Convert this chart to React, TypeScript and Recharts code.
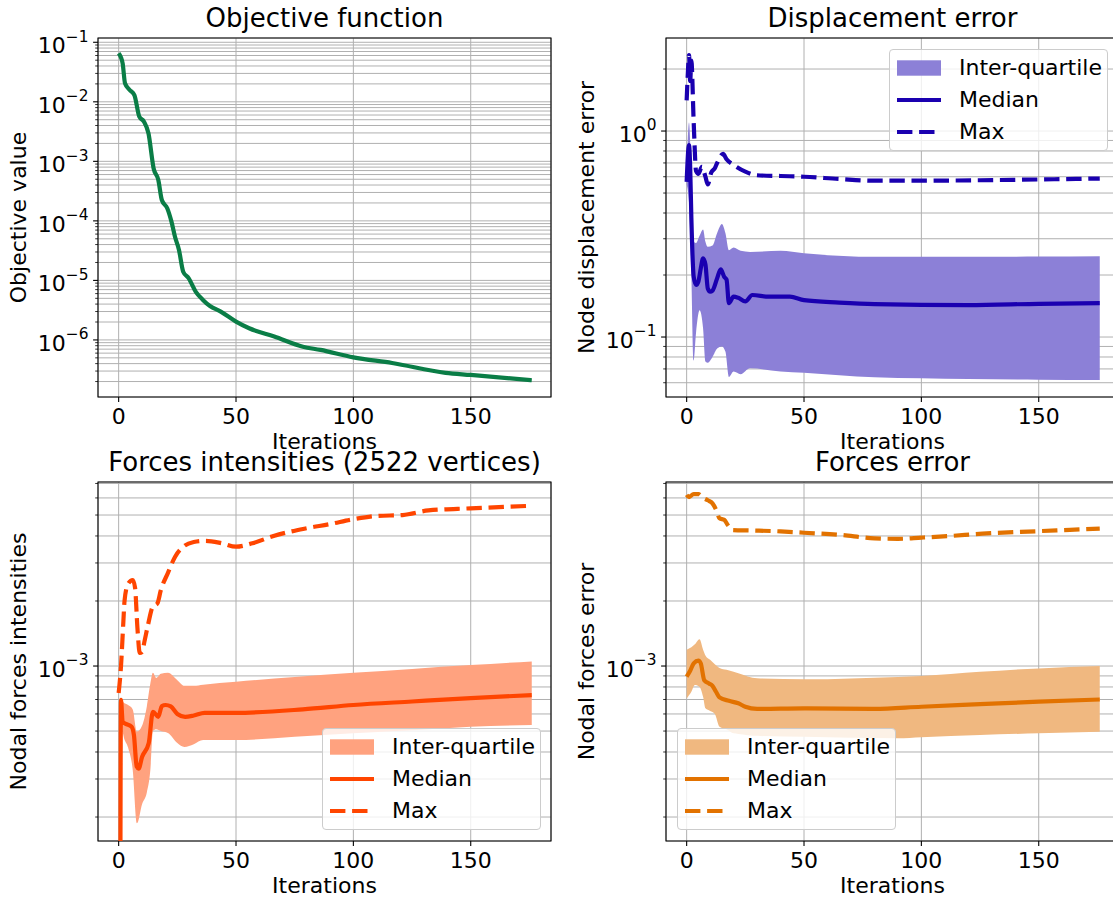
import React from 'react';
import { Area, CartesianGrid, ComposedChart, Legend, Line, ReferenceArea, XAxis, YAxis } from 'recharts';

const FONT = '"DejaVu Sans", "Liberation Sans", sans-serif';

// shared x axis (iterations)
const iterTicks = [0, 50, 100, 150];
const iterDomain: [number, number] = [-8.8, 184.2];

// Objective function
const objIter = [0, 1.7, 2.7, 4.7, 6.7, 8.8, 10.8, 12.7, 14.9, 16.9, 18.4, 20.7, 22.5, 24, 25.7, 27.5, 29.8, 32.8, 35.9, 38.9, 43.5, 50, 55.6, 66.3, 78.5, 86, 100, 116.5, 139.3, 150, 176];
const objValue = [0.0653, 0.0443, 0.0205, 0.0158, 0.013, 0.00564, 0.00464, 0.00296, 7.6e-4, 4.86e-4, 2.24e-4, 1.63e-4, 9.7e-5, 5.4e-5, 3.25e-5, 1.4e-5, 1.09e-5, 6.5e-6, 4.7e-6, 3.72e-6, 2.99e-6, 2.03e-6, 1.57e-6, 1.14e-6, 7.7e-7, 6.8e-7, 5.1e-7, 4.1e-7, 2.8e-7, 2.58e-7, 2.1e-7];

// Displacement error
const dispBandIter = [0, 1, 2, 3, 4, 5.5, 7, 8, 9, 11, 13, 15, 16.5, 18, 20, 23, 27, 40, 50, 80, 120, 150, 176];
const dispBandLow = [0.55, 0.45, 0.2, 0.077, 0.105, 0.135, 0.11, 0.076, 0.075, 0.08, 0.088, 0.09, 0.085, 0.064, 0.068, 0.066, 0.0705, 0.068, 0.067, 0.0637, 0.0625, 0.062, 0.0618];
const dispBandHigh = [0.6, 1.1, 0.6, 0.29, 0.286, 0.31, 0.333, 0.29, 0.274, 0.278, 0.32, 0.354, 0.32, 0.264, 0.272, 0.262, 0.259, 0.262, 0.255, 0.245, 0.245, 0.246, 0.247];
const dispMedIter = [0, 1, 1.5, 2, 3, 4, 5, 6, 7, 8, 9, 10, 11, 13, 14.5, 16, 17, 18, 20, 22, 25, 28, 35, 44, 50, 65, 80, 120, 150, 176];
const dispMedian = [0.567, 0.855, 0.67, 0.38, 0.196, 0.179, 0.186, 0.215, 0.241, 0.225, 0.172, 0.166, 0.168, 0.193, 0.213, 0.196, 0.19, 0.146, 0.157, 0.155, 0.149, 0.16, 0.157, 0.157, 0.151, 0.147, 0.1445, 0.143, 0.145, 0.146];
const dispMaxIter = [0, 0.5, 1, 1.5, 2, 3, 4, 5, 6.5, 8, 9, 10.5, 12, 13, 15.5, 17, 20, 25, 30, 40, 50, 65, 80, 100, 125, 150, 176];
const dispMax = [1.41, 1.9, 2.34, 1.75, 2.2, 1.1, 0.64, 0.62, 0.67, 0.6, 0.55, 0.63, 0.66, 0.7, 0.775, 0.73, 0.685, 0.635, 0.61, 0.605, 0.6, 0.585, 0.574, 0.574, 0.577, 0.582, 0.588];

// Forces intensities
const intBandIter = [1, 2, 4, 6, 7.8, 10, 12, 13.5, 14.6, 16, 18, 21, 25, 28, 32, 36, 50, 75, 100, 125, 150, 176];
const intBandLow = [6.0e-4, 4.8e-4, 4.2e-4, 3.3e-4, 1.87e-4, 2.3e-4, 2.6e-4, 3.3e-4, 5.0e-4, 5.1e-4, 5.0e-4, 4.9e-4, 4.4e-4, 4.22e-4, 4.35e-4, 4.54e-4, 4.54e-4, 4.7e-4, 4.88e-4, 5.05e-4, 5.24e-4, 5.33e-4];
const intBandHigh = [7.0e-4, 6.8e-4, 6.6e-4, 6.3e-4, 4.97e-4, 5.3e-4, 6.5e-4, 8.3e-4, 9.3e-4, 8.8e-4, 9.2e-4, 9.3e-4, 8.6e-4, 8.1e-4, 8.1e-4, 8.2e-4, 8.46e-4, 8.9e-4, 9.3e-4, 9.7e-4, 1.01e-3, 1.05e-3];
const intMedIter = [0, 1, 1.7, 3, 5.5, 6.5, 7.7, 8.5, 10, 12.8, 14.6, 16.9, 18.4, 20, 22.2, 25, 28.3, 32, 36.6, 50, 78.5, 100, 125, 150, 176];
const intMedian = [1e-12, 6.97e-4, 5.52e-4, 5.4e-4, 5.24e-4, 4.8e-4, 3.42e-4, 3.35e-4, 3.8e-4, 4.39e-4, 6.14e-4, 5.82e-4, 6.53e-4, 6.6e-4, 6.5e-4, 6.0e-4, 5.82e-4, 5.9e-4, 6.07e-4, 6.07e-4, 6.3e-4, 6.6e-4, 6.85e-4, 7.1e-4, 7.34e-4];
const intMaxIter = [0, 1, 2, 2.5, 4, 6, 7, 8, 9, 10, 11, 12.5, 14.5, 16.5, 18, 21, 24, 28, 32, 37, 44, 50, 57, 66, 80, 90, 100, 110, 121, 132, 150, 176];
const intMax = [7.5e-4, 1.0e-3, 1.6e-3, 2.0e-3, 2.4e-3, 2.5e-3, 2.3e-3, 1.5e-3, 1.15e-3, 1.16e-3, 1.3e-3, 1.55e-3, 1.88e-3, 1.95e-3, 2.25e-3, 2.7e-3, 3.2e-3, 3.6e-3, 3.75e-3, 3.8e-3, 3.7e-3, 3.57e-3, 3.7e-3, 4.0e-3, 4.34e-3, 4.54e-3, 4.78e-3, 4.95e-3, 5.0e-3, 5.25e-3, 5.37e-3, 5.52e-3];

// Forces error
const errBandIter = [0, 2, 3.5, 5.5, 7, 8, 10, 12, 14, 17, 20, 22, 30, 50, 90, 100, 125, 150, 176];
const errBandLow = [7.08e-4, 7.6e-4, 8.17e-4, 8.0e-4, 7.2e-4, 6.37e-4, 6.2e-4, 6.0e-4, 5.24e-4, 5.1e-4, 4.88e-4, 4.85e-4, 4.75e-4, 4.7e-4, 4.63e-4, 4.68e-4, 4.8e-4, 4.88e-4, 4.96e-4];
const errBandHigh = [1.19e-3, 1.22e-3, 1.26e-3, 1.33e-3, 1.19e-3, 1.12e-3, 1.07e-3, 1.02e-3, 9.8e-4, 9.6e-4, 9.4e-4, 9.25e-4, 8.77e-4, 8.68e-4, 8.9e-4, 8.99e-4, 9.4e-4, 9.75e-4, 1.0e-3];
const errMedIter = [0, 1.5, 3, 5, 6, 7.5, 9.5, 11, 12.5, 14, 18, 22, 25, 30, 50, 80, 100, 125, 150, 176];
const errMedian = [8.93e-4, 9.5e-4, 1.03e-3, 1.06e-3, 1.03e-3, 8.6e-4, 8.3e-4, 8.1e-4, 7.6e-4, 7.16e-4, 6.9e-4, 6.72e-4, 6.48e-4, 6.33e-4, 6.37e-4, 6.33e-4, 6.48e-4, 6.66e-4, 6.84e-4, 7.0e-4];
const errMaxIter = [0, 1, 3, 5, 7, 9, 11, 12.5, 14, 16, 17.5, 19.5, 27.6, 40, 50, 65, 80, 90, 100, 111, 126, 150, 176];
const errMax = [6.2e-3, 6.05e-3, 6.25e-3, 6.25e-3, 6.0e-3, 5.85e-3, 5.66e-3, 5.3e-3, 4.83e-3, 4.75e-3, 4.5e-3, 4.26e-3, 4.24e-3, 4.2e-3, 4.14e-3, 4.05e-3, 3.9e-3, 3.88e-3, 3.93e-3, 3.99e-3, 4.1e-3, 4.21e-3, 4.33e-3];

const legendNames = ['Inter-quartile', 'Median', 'Max'];

const PLOT_W = 453;
const PLOT_H = 359;
const LINE_W = 4.2;
const DASH = '15.4 6.7';

type Pt = { x: number; v: number };
type BandPt = { x: number; band: [number, number] };

const toLine = (xs: number[], vs: number[]): Pt[] => xs.map((x, i) => ({ x, v: vs[i] }));
const toBand = (xs: number[], lo: number[], hi: number[]): BandPt[] =>
  xs.map((x, i) => ({ x, band: [lo[i], hi[i]] }));

const logTicks = (lo: number, hi: number) => {
  const out: number[] = [];
  for (let e = Math.floor(Math.log10(lo)); e <= Math.ceil(Math.log10(hi)); e++) {
    for (let m = 1; m < 10; m++) {
      const v = m * Math.pow(10, e);
      if (v >= lo && v <= hi) out.push(v);
    }
  }
  return out;
};

const XTick = (props: any) => {
  const { x, y, payload } = props;
  return (
    <g>
      <line x1={x} x2={x} y1={y} y2={y + 4.9} stroke="#000" strokeWidth={1.1} />
      <text x={x} y={y + 26.5} textAnchor="middle" fontSize={22} fontFamily={FONT} fill="#000">
        {payload.value}
      </text>
    </g>
  );
};

const YTick = (props: any) => {
  const { x, y, payload } = props;
  const lg = Math.log10(payload.value);
  const exp = Math.round(lg);
  if (Math.abs(lg - exp) > 1e-6) {
    return <line x1={x - 2.8} x2={x} y1={y} y2={y} stroke="#000" strokeWidth={0.8} />;
  }
  return (
    <g>
      <line x1={x - 4.9} x2={x} y1={y} y2={y} stroke="#000" strokeWidth={1.1} />
      <text x={x - 9.5} y={y + 11} textAnchor="end" fontFamily={FONT} fill="#000">
        <tspan fontSize={22}>10</tspan>
        <tspan fontSize={15.4} dy={-11.6}>{exp < 0 ? '\u2212' + -exp : String(exp)}</tspan>
      </text>
    </g>
  );
};

const YLabel = (props: any) => {
  const vb = props.viewBox;
  const x = vb.x + vb.width - 72;
  const y = vb.y + vb.height / 2;
  return (
    <text x={x} y={y} transform={`rotate(-90, ${x}, ${y})`} textAnchor="middle" fontSize={22} fontFamily={FONT} fill="#000">
      {props.text}
    </text>
  );
};

const XLabel = (props: any) => {
  const vb = props.viewBox;
  return (
    <text x={vb.x + vb.width / 2} y={vb.y + 51.5} textAnchor="middle" fontSize={22} fontFamily={FONT} fill="#000">
      Iterations
    </text>
  );
};

const LegendBox = ({ color, fill }: { color: string; fill: string }) => (
  <div
    style={{
      position: 'relative',
      width: 219,
      height: 102,
      boxSizing: 'border-box',
      border: '1px solid #cccccc',
      borderRadius: 4,
      background: 'rgba(255,255,255,0.8)',
      fontFamily: FONT,
      fontSize: 22,
      color: '#000',
    }}
  >
    {legendNames.map((name, i) => (
      <div key={name} style={{ position: 'absolute', left: 0, top: 1.5 + i * 32, height: 32, width: 217 }}>
        <svg width={44} height={32} style={{ position: 'absolute', left: 7, top: 0 }}>
          {i === 0 && <rect x={0} y={8.3} width={44} height={15.4} fill={fill} />}
          {i === 1 && <line x1={0} x2={44} y1={16} y2={16} stroke={color} strokeWidth={LINE_W} />}
          {i === 2 && <line x1={0} x2={44} y1={16} y2={16} stroke={color} strokeWidth={LINE_W} strokeDasharray={DASH} />}
        </svg>
        <span style={{ position: 'absolute', left: 69, top: 0, lineHeight: '32px', whiteSpace: 'nowrap' }}>{name}</span>
      </div>
    ))}
  </div>
);

type PanelProps = {
  left: number;
  top: number;
  width: number;
  height: number;
  plotTop: number;
  axisWidth: number;
  yDomain: [number, number];
  yLabel: string;
  color: string;
  fill?: string;
  single?: Pt[];
  band?: BandPt[];
  median?: Pt[];
  max?: Pt[];
  legendLeft?: number;
  legendTop?: number;
};

const Panel = (p: PanelProps) => {
  const xAxisHeight = p.height - p.plotTop - PLOT_H;
  const right = p.width - p.axisWidth - PLOT_W;
  return (
    <div style={{ position: 'absolute', left: p.left, top: p.top }}>
      <ComposedChart
        width={p.width}
        height={p.height}
        data={p.band ?? p.single}
        margin={{ top: p.plotTop, right, bottom: 0, left: 0 }}
      >
        <CartesianGrid stroke="#b0b0b0" strokeWidth={1} />
        <XAxis
          dataKey="x"
          type="number"
          domain={iterDomain}
          ticks={iterTicks}
          allowDataOverflow
          interval={0}
          height={xAxisHeight}
          tickSize={0}
          tickMargin={0}
          tickLine={false}
          axisLine={false}
          tick={<XTick />}
          label={<XLabel />}
        />
        <YAxis
          type="number"
          scale="log"
          domain={p.yDomain}
          ticks={logTicks(p.yDomain[0], p.yDomain[1])}
          allowDataOverflow
          interval={0}
          width={p.axisWidth}
          tickSize={0}
          tickMargin={0}
          tickLine={false}
          axisLine={false}
          tick={<YTick />}
          label={<YLabel text={p.yLabel} />}
        />
        {p.band && (
          <Area
            dataKey="band"
            type="monotone"
            stroke="none"
            fill={p.fill}
            fillOpacity={1}
            dot={false}
            activeDot={false}
            isAnimationActive={false}
          />
        )}
        {p.single && (
          <Line
            dataKey="v"
            type="monotone"
            stroke={p.color}
            strokeWidth={LINE_W}
            dot={false}
            activeDot={false}
            isAnimationActive={false}
          />
        )}
        {p.median && (
          <Line
            data={p.median}
            dataKey="v"
            type="monotone"
            stroke={p.color}
            strokeWidth={LINE_W}
            strokeLinejoin="round"
            dot={false}
            activeDot={false}
            isAnimationActive={false}
          />
        )}
        {p.max && (
          <Line
            data={p.max}
            dataKey="v"
            type="monotone"
            stroke={p.color}
            strokeWidth={LINE_W}
            strokeDasharray={DASH}
            dot={false}
            activeDot={false}
            isAnimationActive={false}
          />
        )}
        <ReferenceArea
          x1={iterDomain[0]}
          x2={iterDomain[1]}
          y1={p.yDomain[0]}
          y2={p.yDomain[1]}
          fill="none"
          stroke="#000"
          strokeWidth={1.1}
          ifOverflow="visible"
        />
        {p.legendLeft !== undefined && (
          <Legend
            layout="vertical"
            align="center"
            verticalAlign="middle"
            wrapperStyle={{ left: p.legendLeft, top: p.legendTop, width: 219, height: 102 }}
            content={() => <LegendBox color={p.color} fill={p.fill ?? p.color} />}
          />
        )}
      </ComposedChart>
    </div>
  );
};

const titleStyle = (centerX: number, top: number): React.CSSProperties => ({
  position: 'absolute',
  left: centerX - 250,
  top,
  width: 500,
  textAlign: 'center',
  fontSize: 26,
  lineHeight: '26px',
  fontFamily: FONT,
  color: '#000',
  whiteSpace: 'nowrap',
});

export default function App() {
  return (
    <div
      style={{
        position: 'absolute',
        left: 0,
        top: 0,
        width: 1113,
        height: 899,
        overflow: 'hidden',
        background: '#fff',
        fontFamily: FONT,
      }}
    >
      <Panel
        left={0}
        top={0}
        width={556}
        height={462}
        plotTop={38}
        axisWidth={98}
        yDomain={[1.1e-7, 0.118]}
        yLabel="Objective value"
        color="#0a7d46"
        single={toLine(objIter, objValue)}
      />
      <Panel
        left={556}
        top={0}
        width={570}
        height={462}
        plotTop={38}
        axisWidth={110}
        yDomain={[0.05115, 2.829]}
        yLabel="Node displacement error"
        color="#1a00b0"
        fill="#8c80d7"
        band={toBand(dispBandIter, dispBandLow, dispBandHigh)}
        median={toLine(dispMedIter, dispMedian)}
        max={toLine(dispMaxIter, dispMax)}
        legendLeft={333}
        legendTop={49}
      />
      <Panel
        left={0}
        top={450}
        width={556}
        height={449}
        plotTop={32}
        axisWidth={98}
        yDomain={[1.549e-4, 7.11e-3]}
        yLabel="Nodal forces intensities"
        color="#ff4500"
        fill="#ffa27f"
        band={toBand(intBandIter, intBandLow, intBandHigh)}
        median={toLine(intMedIter, intMedian)}
        max={toLine(intMaxIter, intMax)}
        legendLeft={322}
        legendTop={278}
      />
      <Panel
        left={556}
        top={450}
        width={570}
        height={449}
        plotTop={32}
        axisWidth={110}
        yDomain={[1.549e-4, 7.11e-3]}
        yLabel="Nodal forces error"
        color="#e27200"
        fill="#f0b880"
        band={toBand(errBandIter, errBandLow, errBandHigh)}
        median={toLine(errMedIter, errMedian)}
        max={toLine(errMaxIter, errMax)}
        legendLeft={121}
        legendTop={278}
      />
      <div style={titleStyle(324.5, 5)}>Objective function</div>
      <div style={titleStyle(892.5, 5)}>Displacement error</div>
      <div style={titleStyle(324.5, 449)}>Forces intensities (2522 vertices)</div>
      <div style={titleStyle(892.5, 449)}>Forces error</div>
    </div>
  );
}
